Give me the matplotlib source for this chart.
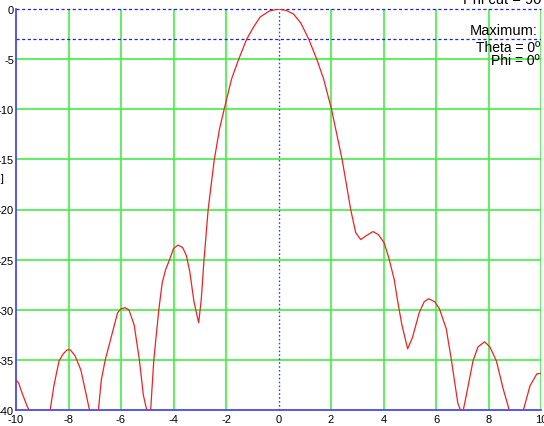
import numpy as np
import matplotlib.pyplot as plt

# pattern cut (theta in deg, gain in dB)
theta = [-10.1, -10.0, -9.9, -9.77, -9.58, -9.45, -9.2, -9.0, -8.85, -8.7,
         -8.55, -8.36, -8.2, -8.05, -7.93, -7.75, -7.53, -7.34, -7.2, -7.05,
         -6.95, -6.86, -6.75, -6.6, -6.35, -6.13, -6.0, -5.84, -5.7, -5.5,
         -5.3, -5.15, -5.02, -4.95, -4.87, -4.75, -4.56, -4.43, -4.3, -4.15,
         -4.0, -3.83, -3.65, -3.51, -3.38, -3.22, -3.04, -2.94, -2.84, -2.68,
         -2.45, -2.25, -2.07, -1.79, -1.53, -1.21, -0.95, -0.7, -0.35, 0.0,
         0.3, 0.57, 0.85, 1.15, 1.47, 1.72, 2.02, 2.43, 2.75, 2.94,
         3.13, 3.35, 3.6, 3.8, 4.02, 4.2, 4.41, 4.53, 4.7, 4.92,
         5.1, 5.36, 5.55, 5.72, 5.95, 6.13, 6.39, 6.58, 6.83, 7.0,
         7.15, 7.41, 7.6, 7.85, 8.05, 8.3, 8.56, 8.79, 9.0, 9.15,
         9.33, 9.58, 9.84, 10.1]
gain = [-37.1, -37.0, -37.3, -38.3, -39.6, -40.3, -43, -46, -43, -40.0,
        -37.5, -35.1, -34.4, -34.0, -34.0, -34.6, -36.0, -38.3, -40.0, -44,
        -44, -40.0, -37, -35.0, -32.5, -30.3, -29.9, -29.8, -30.0, -31.5,
        -35.0, -38.5, -40.0, -43, -40.0, -35.0, -30.0, -27.3, -26.0, -25.0,
        -23.9, -23.55, -23.8, -24.6, -26.2, -29.2, -31.3, -28.9, -25.1, -20.0,
        -15.1, -12.0, -10.0, -7.0, -5.1, -3.0, -1.8, -0.8, -0.2, 0.0,
        -0.15, -0.5, -1.4, -3.0, -5.1, -7.0, -10.0, -15.1, -20.0, -22.3,
        -23.0, -22.6, -22.2, -22.5, -23.3, -24.8, -27.0, -29.0, -31.5, -33.9,
        -32.8, -30.3, -29.2, -28.9, -29.2, -29.9, -31.9, -34.9, -39.3, -40.5,
        -38.6, -35.1, -33.7, -33.2, -33.7, -35.1, -37.9, -40.0, -44, -44,
        -40.0, -37.6, -36.4, -36.3]

xticks = [-10, -8, -6, -4, -2, 0, 2, 4, 6, 8, 10]
yticks = [0, -5, -10, -15, -20, -25, -30, -35, -40]

plt.rcParams['font.family'] = ['Liberation Sans', 'DejaVu Sans']

W, H = 544, 427
fig = plt.figure(figsize=(W/100, H/100), dpi=100)
ax = fig.add_axes([16/W, (H-411)/H, 525/W, 401/H])
ax.set_xlim(-10, 10)
ax.set_ylim(-40, 0)

green = '#44ee44'
for t in xticks:
    if t not in (-10, 0):
        ax.axvline(t, color=green, lw=1.2, zorder=1)
for t in yticks:
    if t not in (0, -40):
        ax.axhline(t, color=green, lw=1.2, zorder=1)

# max and -3 dB markers
ax.axhline(0, color='#2020dd', lw=0.9, ls=(0, (2.5, 2)), zorder=2, clip_on=False)
ax.axhline(-3, color='#2020dd', lw=0.9, ls=(0, (2.5, 2)), zorder=2)
ax.axvline(0, color='#4040dd', lw=1.0, ls=(0, (1.2, 1.6)), zorder=2)

ax.plot(theta, gain, color='#ee2222', lw=0.9, zorder=3)

ax.set_xticks(xticks)
ax.set_yticks(yticks)
ax.set_xticklabels([str(t) for t in xticks], fontsize=8)
ax.set_yticklabels([str(t) for t in yticks], fontsize=8)
ax.tick_params(axis='y', length=0, pad=1.5)
ax.tick_params(axis='x', length=0, pad=3)
for s in ['top', 'right']:
    ax.spines[s].set_visible(False)
for s in ['left', 'bottom']:
    ax.spines[s].set_color('#3a3aee')
    ax.spines[s].set_linewidth(1.2)

fig.text(4/W, 1 - 182/H, '[dB]', ha='right', va='baseline', fontsize=8)
fig.text(541/W, 1 - 4/H, 'Phi cut = 90', ha='right', va='baseline', fontsize=10.5)
fig.text(538/W, 1 - 35/H, 'Maximum:', ha='right', va='baseline', fontsize=10.5)
fig.text(540/W, 1 - 52/H, 'Theta = 0º', ha='right', va='baseline', fontsize=10)
fig.text(540/W, 1 - 65/H, 'Phi = 0º', ha='right', va='baseline', fontsize=10)

fig.savefig('out.png', dpi=100)
